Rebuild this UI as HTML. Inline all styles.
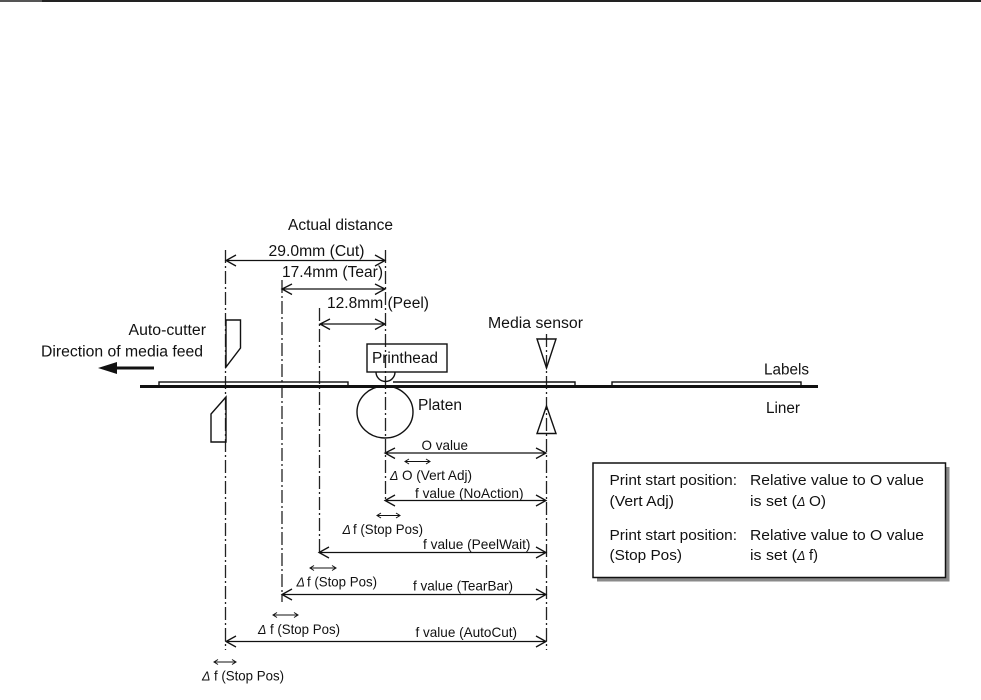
<!DOCTYPE html>
<html>
<head>
<meta charset="utf-8">
<style>
html,body{margin:0;padding:0;background:#fff;}
svg{display:block;}
text{font-family:"Liberation Sans",Arial,sans-serif;fill:#111;}
.l{font-size:15.5px;}
.s{font-size:13.8px;}
.b{font-size:15.2px;}
.d{font-size:12.5px;font-style:italic;}
.dash{stroke:#222;stroke-width:1.3;stroke-dasharray:13 3 2 3;fill:none;}
.ln{stroke:#111;stroke-width:1.4;fill:none;}
.ar{stroke:#111;stroke-width:1.3;fill:none;}
.sm{stroke:#111;stroke-width:1;fill:none;}
</style>
</head>
<body>
<svg width="981" height="700" viewBox="0 0 981 700" xmlns="http://www.w3.org/2000/svg">
<rect width="981" height="700" fill="#fff"/>
<rect x="0" y="0" width="42" height="2" fill="#555"/>
<rect x="42" y="0" width="939" height="2" fill="#222"/>

<!-- centre lines -->
<line class="dash" x1="225.5" y1="250" x2="225.5" y2="650"/>
<line class="dash" x1="282" y1="280" x2="282" y2="602"/>
<line class="dash" x1="319.5" y1="308" x2="319.5" y2="555"/>
<line class="dash" x1="385.5" y1="250" x2="385.5" y2="502"/>
<line class="dash" x1="546.5" y1="334" x2="546.5" y2="650"/>

<!-- media -->
<rect x="159" y="382" width="189" height="5" class="ln" fill="none"/>
<polyline class="ln" points="393,382 575,382 575,387"/>
<rect x="612" y="382" width="189" height="5" class="ln"/>
<rect x="140" y="385" width="678" height="3" fill="#111"/>

<!-- cutter -->
<polygon class="ln" points="226,320 240.5,320 240.5,348 226,367"/>
<polygon class="ln" points="226,397 211,414 211,442 226,442"/>

<!-- printhead & platen -->
<rect class="ln" x="367" y="344" width="80" height="28"/>
<path class="ln" d="M376,372 A9.5,9.5 0 0 0 395,372"/>
<ellipse class="ln" cx="385" cy="412" rx="28" ry="26"/>

<!-- sensor -->
<polygon class="ln" points="537,339 556,339 546.5,368"/>
<polygon class="ln" points="546.5,406 537,433.5 556,433.5"/>

<!-- feed arrow -->
<rect x="114" y="366.5" width="40" height="3" fill="#111"/>
<polygon points="98,368 117,362 117,374" fill="#111"/>

<!-- top dimensions -->
<path class="ar" d="M226,260.5H385 M236,255L226,260.5L236,266 M375,255L385,260.5L375,266"/>
<path class="ar" d="M282,289H385 M292,284L282,289L292,294.500 M375,284L385,289L375,294.500"/>
<path class="ar" d="M320,324H385 M330,319L320,324L330,329.500 M375,319L385,324L375,329.500"/>

<!-- lower dimensions -->
<path class="ar" d="M385,453H546 M395,448L385,453L395,458.500 M536,448L546,453L536,458.500"/>
<path class="ar" d="M385,500.500H546 M395,495L385,500.500L395,506 M536,495L546,500.500L536,506"/>
<path class="ar" d="M319,552.500H546 M329,547L319,552.500L329,558 M536,547L546,552.500L536,558"/>
<path class="ar" d="M282,594.500H546 M292,589L282,594.500L292,600 M536,589L546,594.500L536,600"/>
<path class="ar" d="M226,641.500H546 M236,636L226,641.500L236,647 M536,636L546,641.500L536,647"/>

<!-- small delta arrows -->
<path class="sm" d="M405,461.500H430 M409,459L405,461.500L409,464 M426,459L430,461.500L426,464"/>
<path class="sm" d="M377,515.500H400 M381,513L377,515.500L381,518 M396,513L400,515.500L396,518"/>
<path class="sm" d="M310,568H336 M314,565.500L310,568L314,570.500 M332,565.500L336,568L332,570.500"/>
<path class="sm" d="M273,615H298 M277,612.500L273,615L277,617.500 M294,612.500L298,615L294,617.500"/>
<path class="sm" d="M214,662H236 M218,659.500L214,662L218,664.500 M232,659.500L236,662L232,664.500"/>

<!-- labels -->
<text class="l" x="288" y="230" textLength="105" lengthAdjust="spacingAndGlyphs">Actual distance</text>
<text class="l" x="268.500" y="256" textLength="96" lengthAdjust="spacingAndGlyphs">29.0mm (Cut)</text>
<text class="l" x="282" y="277" textLength="101" lengthAdjust="spacingAndGlyphs">17.4mm (Tear)</text>
<text class="l" x="327" y="308" textLength="102" lengthAdjust="spacingAndGlyphs">12.8mm (Peel)</text>
<text class="l" x="128.500" y="335" textLength="77.500" lengthAdjust="spacingAndGlyphs">Auto-cutter</text>
<text class="l" x="41" y="356.500" textLength="162" lengthAdjust="spacingAndGlyphs">Direction of media feed</text>
<text class="l" x="372" y="363" textLength="66" lengthAdjust="spacingAndGlyphs">Printhead</text>
<text class="l" x="418" y="410" textLength="44" lengthAdjust="spacingAndGlyphs">Platen</text>
<text class="l" x="488" y="328" textLength="95" lengthAdjust="spacingAndGlyphs">Media sensor</text>
<text class="l" x="764" y="374.500" textLength="45" lengthAdjust="spacingAndGlyphs">Labels</text>
<text class="l" x="766" y="413" textLength="34" lengthAdjust="spacingAndGlyphs">Liner</text>

<text class="s" x="421.500" y="450" textLength="46.500" lengthAdjust="spacingAndGlyphs">O value</text>
<text class="d" x="390" y="480">Δ</text>
<text class="s" x="402" y="480" textLength="70" lengthAdjust="spacingAndGlyphs">O (Vert Adj)</text>
<text class="s" x="415" y="498" textLength="108.500" lengthAdjust="spacingAndGlyphs">f value (NoAction)</text>
<text class="d" x="342.500" y="534">Δ</text>
<text class="s" x="353" y="534" textLength="70" lengthAdjust="spacingAndGlyphs">f (Stop Pos)</text>
<text class="s" x="423" y="549" textLength="107.500" lengthAdjust="spacingAndGlyphs">f value (PeelWait)</text>
<text class="d" x="296.500" y="586.500">Δ</text>
<text class="s" x="307" y="586.500" textLength="70" lengthAdjust="spacingAndGlyphs">f (Stop Pos)</text>
<text class="s" x="413" y="590.500" textLength="100" lengthAdjust="spacingAndGlyphs">f value (TearBar)</text>
<text class="d" x="258" y="634">Δ</text>
<text class="s" x="270" y="634" textLength="70" lengthAdjust="spacingAndGlyphs">f (Stop Pos)</text>
<text class="s" x="415.500" y="637" textLength="101.500" lengthAdjust="spacingAndGlyphs">f value (AutoCut)</text>
<text class="d" x="202" y="680.500">Δ</text>
<text class="s" x="214" y="680.500" textLength="70" lengthAdjust="spacingAndGlyphs">f (Stop Pos)</text>

<!-- note box -->
<rect x="597" y="467" width="352.500" height="114.500" fill="#8a8a8a"/>
<rect x="593" y="463" width="352.500" height="114.500" fill="#fff" stroke="#111" stroke-width="1.500"/>
<text class="b" x="609.500" y="485" textLength="127.500" lengthAdjust="spacingAndGlyphs">Print start position:</text>
<text class="b" x="750" y="485" textLength="174" lengthAdjust="spacingAndGlyphs">Relative value to O value</text>
<text class="b" x="609.500" y="506" textLength="64.500" lengthAdjust="spacingAndGlyphs">(Vert Adj)</text>
<text class="b" x="750" y="506" textLength="47" lengthAdjust="spacingAndGlyphs">is set (</text>
<text class="d" x="797" y="506">Δ</text>
<text class="b" x="809" y="506" textLength="17" lengthAdjust="spacingAndGlyphs">O)</text>
<text class="b" x="609.500" y="540" textLength="127.500" lengthAdjust="spacingAndGlyphs">Print start position:</text>
<text class="b" x="750" y="540" textLength="174" lengthAdjust="spacingAndGlyphs">Relative value to O value</text>
<text class="b" x="609.500" y="560" textLength="72.500" lengthAdjust="spacingAndGlyphs">(Stop Pos)</text>
<text class="b" x="750" y="560" textLength="47" lengthAdjust="spacingAndGlyphs">is set (</text>
<text class="d" x="797" y="560">Δ</text>
<text class="b" x="809" y="560" textLength="9" lengthAdjust="spacingAndGlyphs">f)</text>
</svg>
</body>
</html>
